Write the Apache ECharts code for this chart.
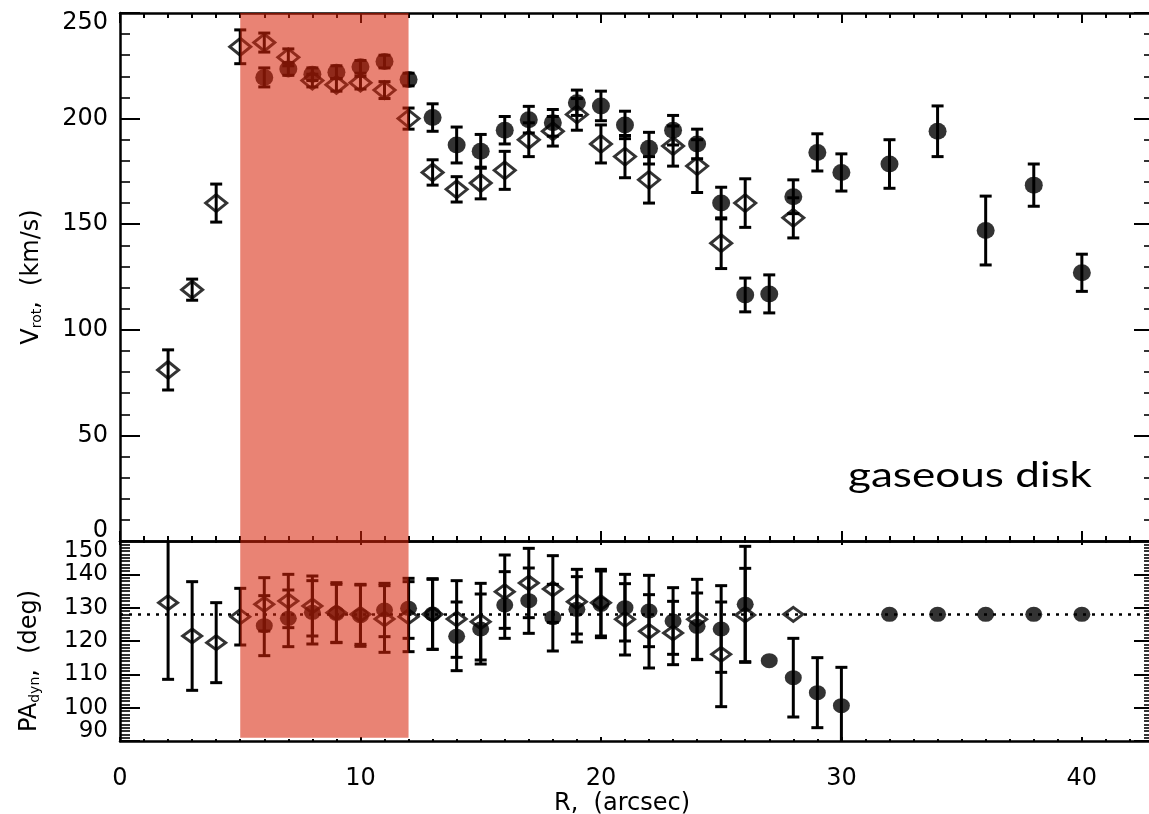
<!DOCTYPE html>
<html><head><meta charset="utf-8">
<script src="https://cdn.jsdelivr.net/npm/echarts@6/dist/echarts.min.js"></script>
<style>html,body{margin:0;padding:0;background:#fff}#c{width:1149px;height:814px}</style>
</head><body><div id="c"></div><script>
// ---------------- data ----------------
// Upper panel: rotation velocity V_rot (km/s) vs R (arcsec)
const R_vrot_open = [2,3,4,5,6,7,8,9,10,11,12,13,14,15,16,17,18,19,20,21,22,23,24,25,26,28];
const V_vrot_open = [81,119,160,234,236,229,218,216,217,213.5,200,174.5,166.5,169.5,175.5,190,194,202,188,182,171,187,177.5,141,160,153];
const E_vrot_open = [9.5,5,9,8,4.5,4,3,3,3,4,5,6,6,7.5,9,8,7,7.5,9,10,11,9.5,12.5,12,11.5,9.5];

const R_vrot_fill = [6,7,8,9,10,11,12,13,14,15,16,17,18,19,20,21,22,23,24,25,26,27,28,29,30,32,34,36,38,40];
const V_vrot_fill = [219.5,223.5,221,222,224.5,227,218.5,200.5,187.5,184.5,194.5,199.5,198,207.5,206,197,186,194.5,188,160,116.5,117,163,184,174.5,178.5,194,147,168.5,127];
const E_vrot_fill = [4.5,3,3,3,3,3,3,6.5,8.5,8,6.5,6.3,6.3,6,7,6.5,7.5,7,7,7.5,8,9,8,8.8,8.8,11.5,12,16.3,10,8.8];

// Lower panel: dynamical position angle PA_dyn (deg) vs R (arcsec)
const R_pa_open = [2,3,4,5,6,7,8,9,10,11,12,13,14,15,16,17,18,19,20,21,22,23,24,25,26,28];
const PA_open = [131.5,121.5,119.5,127.3,131,132,130.5,128.5,128,126.6,127.3,128,126.6,125.8,134.8,137.4,135.6,131.8,131.5,126.5,122.9,122.4,126.5,116,127.8,128];
const E_pa_open = [23,16.3,12,8.5,8,8,9,9,9,10,10.5,10.5,11.5,11.5,11,10.4,10,9.7,10,10.7,11,9.5,12,15.7,14,0];

const R_pa_fill = [6,7,8,9,10,11,12,13,14,15,16,17,18,19,20,21,22,23,24,25,26,27,28,29,30,32,34,36,38,40];
const PA_fill = [124.6,126.8,128.6,128.3,127.6,129.3,129.8,128.1,121.4,123.6,130.8,132.1,127,129.5,131,130,129,126,124.4,123.6,131,114.1,109,104.5,100.6,128,128,128,128,128];
const E_pa_fill = [9,8.5,9.5,8.7,9.2,8,9,10.6,10.3,10.5,10,9.8,10,9.8,10,10,10.7,10,10,13,17.4,0,11.8,10.5,11.5,0,0,0,0,0];

const PA_mean = 128;            // dotted reference line
const shadeR = [5, 12];         // highlighted radial range
const shadeVrot = [0, 250];
const shadePA = [91, 150];

// axis ranges / ticks
const xRange = [0, 43], xMajor = 10, xMinor = 1;
const vRange = [0, 250], vMajor = 50, vMinorSplit = 5;
const paRange = [90, 150], paMajor = 10, paMinorSplit = 10;

const FONT = 'DejaVu Sans';
const BLACK = '#000';

// ---------------- helpers ----------------
function errSeries(xi, yi, R, V, E, capHalf) {
  return {
    type: 'custom', xAxisIndex: xi, yAxisIndex: yi, z: 2, silent: true, clip: true,
    encode: { x: 0, y: 1 },
    data: R.map((r, i) => [r, V[i], E[i]]),
    renderItem(params, api) {
      const x = api.value(0), y = api.value(1), e = api.value(2);
      if (!e) return null;
      const p1 = api.coord([x, y + e]), p2 = api.coord([x, y - e]);
      const st = { stroke: BLACK, lineWidth: 3 };
      return { type: 'group', children: [
        { type: 'line', shape: { x1: p1[0], y1: p1[1], x2: p2[0], y2: p2[1] }, style: st },
        { type: 'line', shape: { x1: p1[0] - capHalf, y1: p1[1], x2: p1[0] + capHalf, y2: p1[1] }, style: st },
        { type: 'line', shape: { x1: p2[0] - capHalf, y1: p2[1], x2: p2[0] + capHalf, y2: p2[1] }, style: st }
      ]};
    }
  };
}
const ELLIPSE = 'path://M0,10A10,10,0,1,1,20,10A10,10,0,1,1,0,10Z';
function pointSeries(xi, yi, R, V, open, size) {
  return {
    type: 'scatter', xAxisIndex: xi, yAxisIndex: yi, z: 3, silent: true,
    symbol: open ? 'diamond' : ELLIPSE, symbolSize: size,
    itemStyle: open ? { color: 'rgba(0,0,0,0)', borderColor: BLACK, borderWidth: 3 }
                    : { color: BLACK, borderWidth: 0 },
    data: R.map((r, i) => [r, V[i]])
  };
}
function shadeSeries(xi, yi, xr, yr) {
  return {
    type: 'custom', xAxisIndex: xi, yAxisIndex: yi, z: 10, silent: true,
    encode: { x: [0, 1], y: [2, 3] },
    data: [[xr[0], xr[1], yr[0], yr[1]]],
    renderItem(params, api) {
      const a = api.coord([api.value(0), api.value(3)]);
      const b = api.coord([api.value(1), api.value(2)]);
      return { type: 'rect', shape: { x: a[0], y: a[1], width: b[0] - a[0], height: b[1] - a[1] },
               style: { fill: 'rgba(216,35,9,0.565)' } };
    }
  };
}
function xAx(grid, pos, interval, tickLen, showLine, labels) {
  const o = {
    type: 'value', gridIndex: grid, position: pos, min: xRange[0], max: xRange[1], interval: interval,
    axisLine: { show: showLine, onZero: false, lineStyle: { color: BLACK, width: 2.5 } },
    axisTick: { show: true, inside: true, length: tickLen, lineStyle: { color: BLACK, width: 2 } },
    splitLine: { show: false },
    axisLabel: { show: false }
  };
  if (labels) {
    o.axisLabel = { show: true, color: BLACK, fontFamily: FONT, fontSize: 24, margin: 26, showMaxLabel: false, showMinLabel: true };
    o.name = 'R,  (arcsec)';
    o.nameLocation = 'middle';
    o.nameGap = 44;
    o.nameTextStyle = { color: BLACK, fontFamily: FONT, fontSize: 24, padding: [0, 30, 0, 0] };
  }
  return o;
}
function yAx(grid, pos, range, interval, split, labels, extra) {
  const o = {
    type: 'value', gridIndex: grid, position: pos, min: range[0], max: range[1], interval: interval,
    axisLine: { show: true, onZero: false, lineStyle: { color: BLACK, width: 2.5 } },
    axisTick: { show: true, inside: true, length: 20, lineStyle: { color: BLACK, width: 2 } },
    minorTick: { show: true, splitNumber: split, length: 10, lineStyle: { color: BLACK, width: 1.6 } },
    splitLine: { show: false }, minorSplitLine: { show: false },
    axisLabel: { show: false }
  };
  if (labels) Object.assign(o, extra);
  return o;
}

const chart = echarts.init(document.getElementById('c'), null, { renderer: 'canvas' });
chart.setOption({
  animation: false,
  backgroundColor: '#fff',
  grid: [
    { left: 120, top: 13, width: 1034, height: 528, outerBoundsMode: 'none', containLabel: false },
    { left: 120, top: 541, width: 1034, height: 200, outerBoundsMode: 'none', containLabel: false }
  ],
  xAxis: [
    xAx(0, 'bottom', xMajor, 10, true, false),
    xAx(0, 'bottom', xMinor, 5, false, false),
    xAx(0, 'top', xMajor, 10, true, false),
    xAx(0, 'top', xMinor, 5, false, false),
    xAx(1, 'bottom', xMajor, 4, true, true),
    xAx(1, 'bottom', xMinor, 2, false, false),
    xAx(1, 'top', xMajor, 4, true, false),
    xAx(1, 'top', xMinor, 2, false, false)
  ],
  yAxis: [
    yAx(0, 'left', vRange, vMajor, vMinorSplit, true, {
      axisLabel: { show: true, color: BLACK, fontFamily: FONT, fontSize: 24, margin: 12, lineHeight: 20,
        showMinLabel: true, showMaxLabel: true, hideOverlap: false,
        formatter: v => v === vRange[0] ? v + '\n' : (v === vRange[1] ? '\n' + v : String(v)) },
      name: 'V{s|rot},  (km/s)', nameLocation: 'middle', nameRotate: 90, nameGap: 76,
      nameTextStyle: { color: BLACK, fontFamily: FONT, fontSize: 24,
        rich: { s: { fontFamily: FONT, fontSize: 14, verticalAlign: 'bottom' } } }
    }),
    yAx(0, 'right', vRange, vMajor, vMinorSplit, false),
    yAx(1, 'left', paRange, paMajor, paMinorSplit, true, {
      axisLabel: { show: true, color: BLACK, fontFamily: FONT, fontSize: 23, margin: 12, lineHeight: 20,
        showMinLabel: true, showMaxLabel: true, hideOverlap: false,
        formatter: v => v === paRange[1] ? '\n' + v : (v === paRange[0] ? v + '\n' : String(v)) },
      name: 'PA{s|dyn},  (deg){sp| }', nameLocation: 'middle', nameRotate: 90, nameGap: 78,
      nameTextStyle: { color: BLACK, fontFamily: FONT, fontSize: 24,
        rich: { s: { fontFamily: FONT, fontSize: 14, verticalAlign: 'bottom' },
                sp: { fontFamily: FONT, fontSize: 24, width: 40 } } }
    }),
    yAx(1, 'right', paRange, paMajor, paMinorSplit, false)
  ],
  graphic: [{
    type: 'text', left: 848, top: 458, z: 20, silent: true,
    scaleX: 1.26, originX: 0,
    style: { text: 'gaseous disk', fontFamily: 'Lato', fontSize: 35, fill: BLACK }
  }],
  series: [
    errSeries(0, 0, R_vrot_open, V_vrot_open, E_vrot_open, 6),
    errSeries(0, 0, R_vrot_fill, V_vrot_fill, E_vrot_fill, 6),
    pointSeries(0, 0, R_vrot_open, V_vrot_open, true, [21, 17]),
    pointSeries(0, 0, R_vrot_fill, V_vrot_fill, false, [18, 17]),
    errSeries(4, 2, R_pa_open, PA_open, E_pa_open, 6),
    errSeries(4, 2, R_pa_fill, PA_fill, E_pa_fill, 6),
    Object.assign(pointSeries(4, 2, R_pa_open, PA_open, true, [19, 14]), {
      markLine: { silent: true, symbol: 'none', animation: false, label: { show: false },
        lineStyle: { color: BLACK, width: 2.5, type: [3, 6] }, data: [{ yAxis: PA_mean }] }
    }),
    pointSeries(4, 2, R_pa_fill, PA_fill, false, [17, 15]),
    shadeSeries(0, 0, shadeR, shadeVrot),
    shadeSeries(4, 2, shadeR, shadePA)
  ]
});
</script></body></html>
